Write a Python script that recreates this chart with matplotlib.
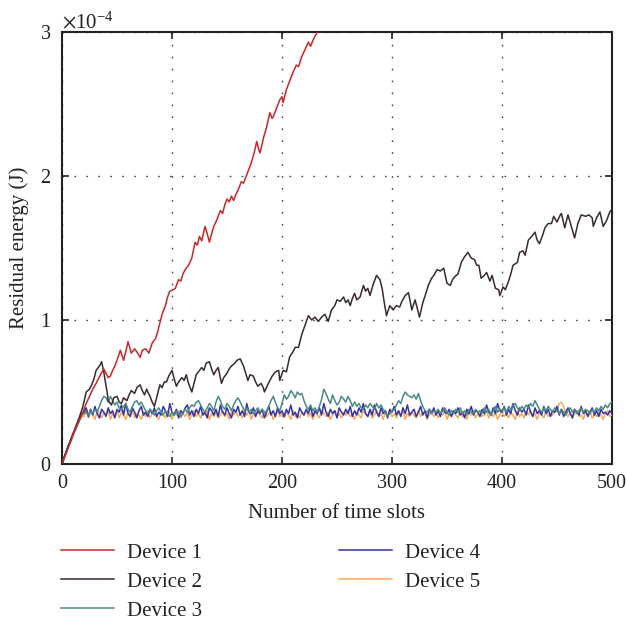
import numpy as np
import matplotlib
matplotlib.use("Agg")
import matplotlib.pyplot as plt

plt.rcParams["font.family"] = ["Liberation Serif", "DejaVu Serif"]
plt.rcParams["mathtext.fontset"] = "stix"

# Residual energy in units of 1e-4 J
SCALE = 1e-4

# Devices 1 and 2: (time slot, energy) samples
D1_T = [0, 4, 8, 12, 16, 19, 22, 25, 28, 31, 33, 35, 38, 40, 42, 44, 46, 48, 50, 53,
        56, 58, 60, 63, 66, 68, 71, 73, 76, 79, 82, 85, 87, 89, 91, 94, 96, 98, 101, 103,
        106, 108, 110, 112, 115, 118, 121, 123, 125, 127, 130, 132, 134, 136, 138, 141, 144, 146, 148, 150,
        152, 154, 156, 158, 161, 163, 165, 168, 170, 172, 175, 177, 179, 180, 183, 186, 189, 191, 192, 195,
        198, 200, 201, 204, 207, 210, 213, 215, 218, 221, 224, 226, 228, 230, 233, 236, 240, 245]
D1_V = [0.00, 0.08, 0.16, 0.24, 0.31, 0.36, 0.42, 0.47, 0.52, 0.56, 0.59, 0.62, 0.66, 0.63, 0.60, 0.61, 0.65, 0.68, 0.72, 0.79,
        0.72, 0.78, 0.85, 0.77, 0.80, 0.78, 0.74, 0.79, 0.80, 0.77, 0.84, 0.87, 0.92, 0.98, 1.04, 1.10, 1.16, 1.20, 1.21, 1.22,
        1.28, 1.27, 1.32, 1.35, 1.38, 1.43, 1.54, 1.52, 1.58, 1.55, 1.65, 1.60, 1.54, 1.60, 1.65, 1.70, 1.76, 1.74, 1.80, 1.84,
        1.82, 1.86, 1.83, 1.87, 1.92, 1.96, 1.95, 2.01, 2.05, 2.09, 2.17, 2.24, 2.18, 2.16, 2.26, 2.34, 2.44, 2.40, 2.41, 2.47,
        2.53, 2.55, 2.51, 2.60, 2.66, 2.72, 2.77, 2.76, 2.83, 2.88, 2.93, 2.90, 2.94, 2.97, 3.01, 3.05, 3.10, 3.17]

D2_T = [0, 4, 8, 12, 16, 19, 22, 25, 27, 29, 31, 34, 36, 38, 39, 41, 42, 45, 47, 50,
        52, 54, 56, 59, 61, 63, 66, 68, 71, 73, 75, 77, 78, 80, 82, 84, 86, 89, 91, 93,
        95, 97, 100, 102, 104, 106, 109, 111, 113, 115, 118, 120, 122, 124, 127, 129, 131, 134, 136, 138,
        140, 142, 145, 147, 150, 152, 154, 157, 159, 162, 165, 167, 169, 171, 174, 176, 178, 181, 183, 184,
        187, 189, 191, 194, 197, 198, 201, 204, 207, 210, 212, 215, 218, 221, 224, 227, 230, 233, 236, 239,
        242, 245, 248, 250, 253, 256, 258, 260, 262, 264, 266, 268, 271, 274, 276, 278, 280, 283, 286, 289,
        291, 293, 295, 298, 301, 304, 307, 309, 312, 315, 318, 321, 323, 325, 328, 331, 333, 336, 338, 341,
        344, 347, 350, 353, 355, 357, 360, 363, 366, 369, 372, 375, 377, 379, 381, 384, 386, 389, 391, 394,
        397, 398, 401, 403, 406, 408, 410, 414, 416, 419, 421, 424, 427, 430, 432, 434, 437, 439, 442, 445,
        447, 450, 453, 454, 457, 460, 463, 466, 469, 472, 476, 479, 482, 483, 486, 489, 492, 495, 498, 500]
D2_V = [0.00, 0.09, 0.17, 0.25, 0.33, 0.40, 0.50, 0.52, 0.55, 0.59, 0.65, 0.68, 0.71, 0.64, 0.59, 0.50, 0.44, 0.41, 0.46, 0.47,
        0.43, 0.42, 0.46, 0.44, 0.48, 0.51, 0.49, 0.53, 0.55, 0.51, 0.48, 0.52, 0.50, 0.47, 0.43, 0.40, 0.46, 0.55, 0.53, 0.57,
        0.57, 0.61, 0.65, 0.59, 0.54, 0.57, 0.60, 0.58, 0.62, 0.56, 0.50, 0.56, 0.62, 0.64, 0.67, 0.65, 0.70, 0.71, 0.66, 0.62,
        0.65, 0.67, 0.56, 0.60, 0.63, 0.66, 0.68, 0.70, 0.72, 0.73, 0.68, 0.63, 0.58, 0.62, 0.61, 0.57, 0.54, 0.56, 0.53, 0.50,
        0.55, 0.58, 0.61, 0.64, 0.65, 0.58, 0.65, 0.64, 0.745, 0.78, 0.81, 0.81, 0.90, 0.965, 1.03, 1.00, 1.02, 0.99, 1.02, 1.04,
        0.99, 1.07, 1.10, 1.14, 1.13, 1.16, 1.12, 1.14, 1.10, 1.15, 1.185, 1.14, 1.16, 1.24, 1.20, 1.22, 1.17, 1.25, 1.31, 1.28,
        1.22, 1.12, 1.03, 1.10, 1.07, 1.10, 1.09, 1.13, 1.17, 1.19, 1.07, 1.14, 1.08, 1.02, 1.12, 1.19, 1.24, 1.29, 1.31, 1.35,
        1.34, 1.36, 1.255, 1.24, 1.28, 1.30, 1.32, 1.40, 1.44, 1.47, 1.43, 1.42, 1.38, 1.38, 1.29, 1.31, 1.33, 1.27, 1.31, 1.22,
        1.21, 1.17, 1.23, 1.21, 1.27, 1.32, 1.38, 1.40, 1.47, 1.48, 1.45, 1.555, 1.58, 1.61, 1.555, 1.53, 1.59, 1.64, 1.67, 1.67,
        1.72, 1.68, 1.73, 1.74, 1.64, 1.73, 1.65, 1.57, 1.67, 1.73, 1.72, 1.73, 1.71, 1.65, 1.71, 1.75, 1.65, 1.69, 1.75, 1.77]

# Devices 3-5: sampled every 2 time slots from 0 to 500
T_LOW = np.arange(0, 501, 2)

D3_V = [0.00, 0.05, 0.08, 0.13, 0.16, 0.20, 0.24, 0.27, 0.31, 0.34,
        0.35, 0.36, 0.34, 0.37, 0.35, 0.38, 0.36, 0.40, 0.44, 0.47,
        0.46, 0.43, 0.47, 0.44, 0.41, 0.43, 0.39, 0.37, 0.40, 0.42,
        0.38, 0.36, 0.40, 0.43, 0.44, 0.41, 0.43, 0.40, 0.37, 0.35,
        0.38, 0.36, 0.34, 0.37, 0.39, 0.36, 0.34, 0.37, 0.35, 0.33,
        0.36, 0.34, 0.37, 0.35, 0.33, 0.36, 0.38, 0.36, 0.39, 0.41,
        0.40, 0.43, 0.44, 0.41, 0.38, 0.36, 0.39, 0.42, 0.40, 0.37,
        0.43, 0.47, 0.44, 0.40, 0.38, 0.42, 0.40, 0.37, 0.41, 0.44,
        0.46, 0.43, 0.40, 0.37, 0.39, 0.36, 0.38, 0.35, 0.37, 0.39,
        0.36, 0.38, 0.35, 0.37, 0.40, 0.44, 0.47, 0.43, 0.39, 0.37,
        0.42, 0.48, 0.45, 0.47, 0.51, 0.49, 0.46, 0.50, 0.48, 0.49,
        0.44, 0.40, 0.38, 0.41, 0.37, 0.39, 0.36, 0.40, 0.45, 0.52,
        0.49, 0.45, 0.42, 0.48, 0.44, 0.41, 0.43, 0.47, 0.45, 0.43,
        0.47, 0.44, 0.40, 0.43, 0.40, 0.42, 0.39, 0.38, 0.41, 0.39,
        0.42, 0.40, 0.38, 0.42, 0.39, 0.41, 0.38, 0.36, 0.33, 0.35,
        0.37, 0.38, 0.41, 0.44, 0.42, 0.47, 0.50, 0.48, 0.47, 0.46,
        0.48, 0.45, 0.49, 0.44, 0.40, 0.37, 0.36, 0.38, 0.35, 0.37,
        0.36, 0.38, 0.35, 0.37, 0.39, 0.36, 0.34, 0.37, 0.35, 0.38,
        0.36, 0.39, 0.35, 0.37, 0.34, 0.38, 0.36, 0.35, 0.38, 0.36,
        0.37, 0.35, 0.39, 0.36, 0.38, 0.34, 0.37, 0.40, 0.36, 0.38,
        0.37, 0.39, 0.36, 0.40, 0.38, 0.41, 0.42, 0.39, 0.37, 0.40,
        0.38, 0.41, 0.39, 0.42, 0.40, 0.44, 0.41, 0.38, 0.36, 0.39,
        0.37, 0.40, 0.38, 0.36, 0.39, 0.37, 0.35, 0.38, 0.36, 0.34,
        0.37, 0.39, 0.36, 0.38, 0.35, 0.37, 0.39, 0.36, 0.38, 0.37,
        0.35, 0.38, 0.36, 0.39, 0.37, 0.40, 0.38, 0.41, 0.39, 0.42,
        0.43]

D4_V = [0.00, 0.05, 0.09, 0.13, 0.17, 0.21, 0.24, 0.28, 0.31, 0.35,
        0.36, 0.39, 0.33, 0.38, 0.34, 0.40, 0.35, 0.32, 0.38, 0.36,
        0.33, 0.39, 0.35, 0.37, 0.32, 0.38, 0.36, 0.41, 0.34, 0.42,
        0.35, 0.33, 0.39, 0.36, 0.32, 0.37, 0.40, 0.34, 0.36, 0.33,
        0.38, 0.35, 0.39, 0.33, 0.36, 0.34, 0.40, 0.37, 0.33, 0.42,
        0.36, 0.34, 0.38, 0.32, 0.37, 0.35, 0.39, 0.41, 0.34, 0.37,
        0.33, 0.38, 0.35, 0.40, 0.34, 0.36, 0.32, 0.39, 0.37, 0.34,
        0.38, 0.33, 0.41, 0.36, 0.34, 0.39, 0.35, 0.32, 0.38, 0.36,
        0.40, 0.34, 0.37, 0.33, 0.42, 0.36, 0.35, 0.39, 0.33, 0.37,
        0.35, 0.38, 0.32, 0.36, 0.40, 0.34, 0.37, 0.33, 0.39, 0.35,
        0.37, 0.33, 0.38, 0.35, 0.41, 0.34, 0.36, 0.32, 0.39, 0.36,
        0.34, 0.38, 0.35, 0.40, 0.33, 0.37, 0.35, 0.39, 0.34, 0.42,
        0.36, 0.33, 0.38, 0.35, 0.37, 0.32, 0.39, 0.36, 0.34, 0.38,
        0.35, 0.40, 0.33, 0.37, 0.34, 0.39, 0.36, 0.42, 0.35, 0.33,
        0.38, 0.34, 0.41, 0.36, 0.33, 0.39, 0.35, 0.37, 0.32, 0.38,
        0.36, 0.40, 0.34, 0.37, 0.33, 0.39, 0.35, 0.41, 0.34, 0.36,
        0.38, 0.33, 0.36, 0.40, 0.34, 0.37, 0.32, 0.38, 0.35, 0.39,
        0.34, 0.37, 0.33, 0.39, 0.36, 0.35, 0.38, 0.33, 0.37, 0.35,
        0.39, 0.34, 0.36, 0.32, 0.38, 0.35, 0.40, 0.34, 0.37, 0.36,
        0.33, 0.38, 0.35, 0.41, 0.36, 0.34, 0.39, 0.35, 0.42, 0.37,
        0.36, 0.40, 0.34, 0.38, 0.35, 0.42, 0.37, 0.34, 0.39, 0.36,
        0.38, 0.34, 0.41, 0.36, 0.33, 0.39, 0.35, 0.37, 0.34, 0.40,
        0.35, 0.38, 0.33, 0.37, 0.36, 0.40, 0.34, 0.38, 0.33, 0.36,
        0.39, 0.35, 0.32, 0.38, 0.36, 0.34, 0.40, 0.35, 0.37, 0.33,
        0.36, 0.39, 0.34, 0.37, 0.33, 0.38, 0.35, 0.36, 0.34, 0.37,
        0.35]

D5_V = [0.00, 0.04, 0.08, 0.12, 0.16, 0.20, 0.23, 0.27, 0.30, 0.33,
        0.33, 0.37, 0.32, 0.36, 0.34, 0.31, 0.37, 0.35, 0.32, 0.36,
        0.34, 0.37, 0.31, 0.35, 0.33, 0.37, 0.32, 0.36, 0.34, 0.31,
        0.36, 0.33, 0.37, 0.32, 0.35, 0.34, 0.31, 0.36, 0.33, 0.37,
        0.32, 0.35, 0.37, 0.33, 0.31, 0.36, 0.34, 0.32, 0.37, 0.35,
        0.31, 0.36, 0.34, 0.37, 0.32, 0.35, 0.33, 0.36, 0.31, 0.34,
        0.37, 0.33, 0.35, 0.32, 0.36, 0.34, 0.37, 0.31, 0.35, 0.33,
        0.36, 0.32, 0.34, 0.37, 0.33, 0.35, 0.31, 0.36, 0.34, 0.37,
        0.33, 0.35, 0.32, 0.36, 0.34, 0.37, 0.31, 0.35, 0.33, 0.36,
        0.34, 0.32, 0.37, 0.33, 0.35, 0.36, 0.31, 0.34, 0.37, 0.33,
        0.35, 0.32, 0.36, 0.34, 0.31, 0.37, 0.33, 0.35, 0.32, 0.36,
        0.34, 0.37, 0.33, 0.35, 0.31, 0.36, 0.34, 0.32, 0.37, 0.35,
        0.33, 0.36, 0.31, 0.34, 0.37, 0.33, 0.35, 0.32, 0.36, 0.34,
        0.37, 0.33, 0.35, 0.31, 0.36, 0.34, 0.32, 0.37, 0.35, 0.33,
        0.36, 0.32, 0.34, 0.37, 0.33, 0.35, 0.31, 0.36, 0.34, 0.37,
        0.33, 0.35, 0.32, 0.36, 0.34, 0.37, 0.31, 0.35, 0.33, 0.36,
        0.34, 0.32, 0.37, 0.33, 0.35, 0.36, 0.31, 0.34, 0.37, 0.33,
        0.35, 0.32, 0.36, 0.34, 0.37, 0.31, 0.35, 0.33, 0.36, 0.34,
        0.32, 0.37, 0.33, 0.35, 0.31, 0.36, 0.34, 0.37, 0.32, 0.35,
        0.36, 0.33, 0.34, 0.37, 0.32, 0.35, 0.33, 0.36, 0.31, 0.34,
        0.37, 0.33, 0.35, 0.32, 0.36, 0.34, 0.31, 0.37, 0.33, 0.35,
        0.32, 0.36, 0.34, 0.37, 0.33, 0.35, 0.31, 0.36, 0.34, 0.32,
        0.37, 0.33, 0.35, 0.34, 0.36, 0.37, 0.42, 0.43, 0.40, 0.35,
        0.33, 0.36, 0.32, 0.35, 0.37, 0.33, 0.34, 0.31, 0.36, 0.34,
        0.37, 0.32, 0.35, 0.33, 0.36, 0.34, 0.31, 0.35, 0.37, 0.33,
        0.34]

LABELS = ["Device 1", "Device 2", "Device 3", "Device 4", "Device 5"]
COLORS = ["#c8282a", "#3c2a2c", "#4a8a84", "#3434a8", "#f8a95a"]

X_TICKS = [0, 100, 200, 300, 400, 500]
Y_TICKS = [0, 1, 2, 3]

fig = plt.figure(figsize=(6.26, 6.20), dpi=100)
ax = fig.add_axes([62 / 626, 1 - 464 / 620, 550 / 626, 432 / 620])

series = [
    (D1_T, D1_V),
    (D2_T, D2_V),
    (T_LOW, D3_V),
    (T_LOW, D4_V),
    (T_LOW, D5_V),
]
draw_order = [4, 3, 2, 1, 0]
handles = {}
for i in draw_order:
    t, v = series[i]
    (ln,) = ax.plot(t, np.asarray(v) * SCALE, color=COLORS[i], lw=1.1,
                    label=LABELS[i], zorder=3 + (4 - i))
    handles[i] = ln

ax.set_xlim(0, 500)
ax.set_ylim(0, 3 * SCALE)
ax.set_xticks(X_TICKS)
ax.set_yticks([y * SCALE for y in Y_TICKS])
ax.ticklabel_format(axis="y", style="sci", scilimits=(0, 0), useMathText=True)
offset = ax.yaxis.get_offset_text()
offset.set_fontsize(15)
offset.set_color("#222222")
offset.set_y(1.005)

ax.grid(True, color="#444444", lw=1.0, linestyle=(0, (1.2, 7.4)))
ax.tick_params(direction="in", length=5, width=1.2, top=True, right=True,
               labelsize=14.5, colors="#222222")
ax.tick_params(axis="x", pad=7)
ax.tick_params(axis="y", pad=8)
for sp in ax.spines.values():
    sp.set_linewidth(1.5)
    sp.set_color("#222222")

ax.set_xlabel("Number of time slots", fontsize=15, color="#222222", labelpad=8)
ax.set_ylabel("Residual energy (J)", fontsize=15, color="#222222", labelpad=8)

leg = fig.legend([handles[i] for i in range(5)], LABELS, ncol=2,
                 loc="upper left", bbox_to_anchor=(61 / 626, 1 - 543 / 620),
                 frameon=False, fontsize=15, handlelength=2.55, handletextpad=0.6,
                 columnspacing=6.6, labelspacing=0.45, borderpad=0, borderaxespad=0)
for text in leg.get_texts():
    text.set_color("#222222")

fig.savefig("out.png", dpi=100)
